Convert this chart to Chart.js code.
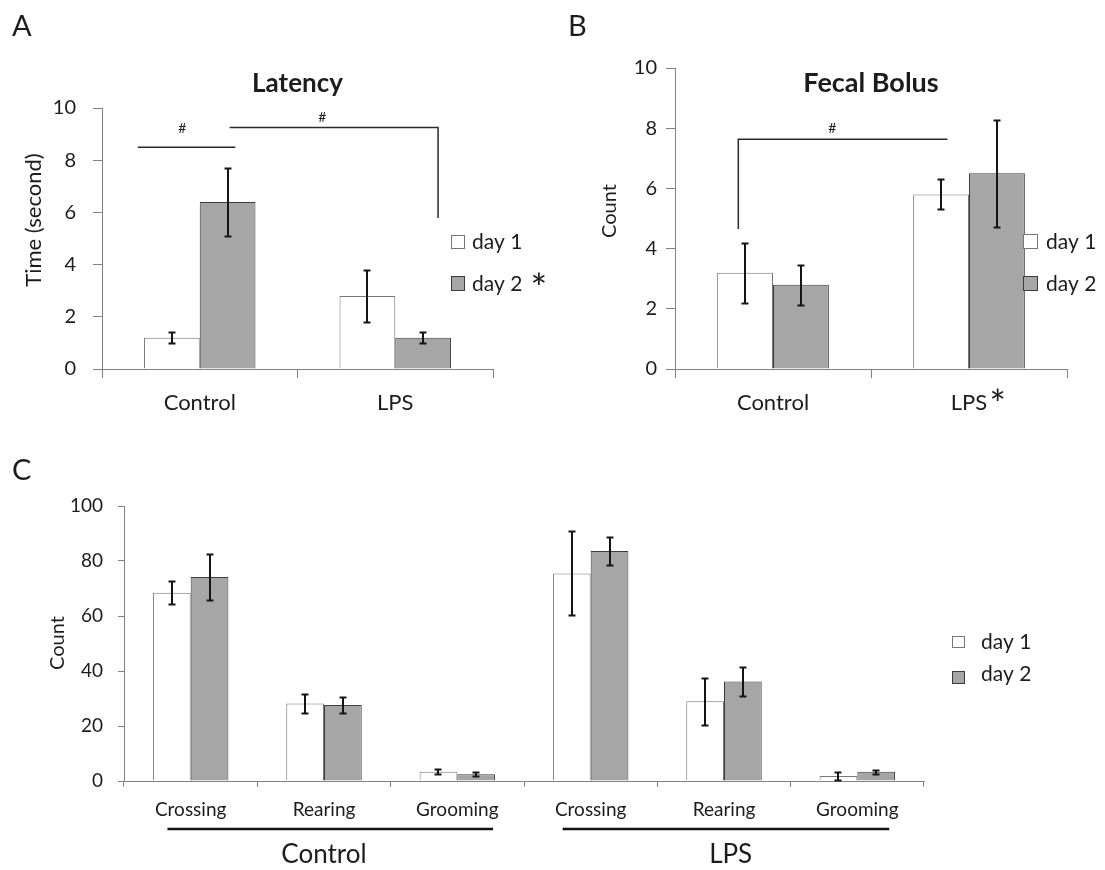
<!DOCTYPE html>
<html>
<head>
<meta charset="utf-8">
<script src="https://cdn.jsdelivr.net/npm/chart.js@4.4.1/dist/chart.umd.min.js"></script>
<style>
  html, body { margin: 0; padding: 0; background: #ffffff; }
  #page { position: relative; width: 1105px; height: 870px; overflow: hidden; }
  canvas { position: absolute; display: block; }
</style>
</head>
<body>
<div id="page">
  <canvas id="latency" width="550" height="420" style="left:0;top:0"></canvas>
  <canvas id="fecal" width="555" height="420" style="left:550px;top:0"></canvas>
  <canvas id="activity" width="1105" height="420" style="left:0;top:450px"></canvas>
</div>
<script>
// ---- data ----
const seriesNames = ['day 1', 'day 2'];

// Latency to move (seconds), mean and error
const latencyGroups = ['Control', 'LPS'];
const latencyDay1 = [1.2, 2.8];
const latencyDay1Err = [0.2, 1.0];
const latencyDay2 = [6.4, 1.2];
const latencyDay2Err = [1.3, 0.2];

// Fecal bolus count
const fecalGroups = ['Control', 'LPS'];
const fecalDay1 = [3.2, 5.8];
const fecalDay1Err = [1.0, 0.5];
const fecalDay2 = [2.8, 6.5];
const fecalDay2Err = [0.67, 1.77];

// Open-field behaviour counts (Control: first three, LPS: last three)
const behaviours = ['Crossing', 'Rearing', 'Grooming', 'Crossing', 'Rearing', 'Grooming'];
const treatmentGroups = ['Control', 'LPS'];
const activityDay1 = [68.5, 28.2, 3.4, 75.5, 29.0, 1.8];
const activityDay1Err = [4.3, 3.4, 1.0, 15.3, 8.6, 1.4];
const activityDay2 = [74.2, 27.6, 2.5, 83.6, 36.2, 3.4];
const activityDay2Err = [8.5, 2.8, 0.8, 5.2, 5.3, 0.7];

// ---- styling ----
const FONT = 'Lato, "Open Sans", "DejaVu Sans", sans-serif';
const INK = '#1c1c1c';
const AXIS = '#828282';
const DAY1_FILL = '#ffffff', DAY1_EDGE = '#777777';
const DAY2_FILL = '#a6a6a6', DAY2_EDGE = '#3c3c3c';

function font(size, weight) {
  return (weight || 'normal') + ' ' + size + 'px ' + FONT;
}

// glyph centred on (cx, cy) using its real ink box, scaled to height h
function drawGlyph(ctx, ch, cx, cy, h) {
  ctx.save();
  ctx.font = font(100);
  const m = ctx.measureText(ch);
  const ink = m.actualBoundingBoxAscent + m.actualBoundingBoxDescent;
  const size = 100 * h / ink;
  ctx.font = font(size);
  const m2 = ctx.measureText(ch);
  const w = m2.actualBoundingBoxLeft + m2.actualBoundingBoxRight;
  ctx.fillStyle = INK;
  ctx.textBaseline = 'alphabetic';
  ctx.textAlign = 'left';
  const baseY = cy + (m2.actualBoundingBoxAscent - m2.actualBoundingBoxDescent) / 2;
  ctx.fillText(ch, cx - w / 2 + m2.actualBoundingBoxLeft, baseY);
  ctx.restore();
}

// error bars, significance brackets, titles, legend, group bars
const decorPlugin = {
  id: 'decor',
  afterDatasetsDraw(chart, args, o) {
    const ctx = chart.ctx, ys = chart.scales.y;
    ctx.save();
    ctx.strokeStyle = '#151515';
    ctx.lineWidth = 2;
    chart.data.datasets.forEach((ds, di) => {
      chart.getDatasetMeta(di).data.forEach((bar, i) => {
        const v = ds.data[i], e = ds.errors[i];
        const t = Math.round(ys.getPixelForValue(v + e)) + 0.5;
        const b = Math.round(ys.getPixelForValue(v - e)) + 0.5;
        const x = Math.round(bar.x);
        ctx.beginPath();
        ctx.moveTo(x, t); ctx.lineTo(x, b);
        ctx.moveTo(x - o.cap, t); ctx.lineTo(x + o.cap, t);
        ctx.moveTo(x - o.cap, b); ctx.lineTo(x + o.cap, b);
        ctx.stroke();
      });
    });
    ctx.restore();
  },
  afterDraw(chart, args, o) {
    const ctx = chart.ctx, xs = chart.scales.x, ys = chart.scales.y, area = chart.chartArea;
    ctx.save();
    ctx.fillStyle = INK;

    if (o.letter) {
      ctx.font = font(o.letter.size);
      ctx.textAlign = 'left';
      ctx.textBaseline = 'alphabetic';
      ctx.fillText(o.letter.text, o.letter.x, o.letter.y);
    }
    if (o.title) {
      ctx.font = font(o.title.size, 'bold');
      ctx.textAlign = 'center';
      ctx.textBaseline = 'alphabetic';
      ctx.fillText(o.title.text, (area.left + area.right) / 2, o.title.y);
    }
    if (o.yTitle) {
      ctx.save();
      ctx.font = font(o.yTitle.size);
      ctx.textAlign = 'center';
      ctx.textBaseline = 'middle';
      ctx.translate(o.yTitle.x, o.yTitle.y);
      ctx.rotate(-Math.PI / 2);
      ctx.fillText(o.yTitle.text, 0, 0);
      ctx.restore();
    }
    (o.brackets || []).forEach(br => {
      ctx.save();
      ctx.strokeStyle = '#2a2a2a';
      ctx.lineWidth = 1.5;
      ctx.beginPath();
      br.path.forEach((p, k) => {
        const px = xs.getPixelForValue(p[0]), py = ys.getPixelForValue(p[1]);
        if (k === 0) ctx.moveTo(px, py); else ctx.lineTo(px, py);
      });
      ctx.stroke();
      ctx.restore();
      ctx.font = font(o.markSize);
      ctx.textAlign = 'center';
      ctx.textBaseline = 'middle';
      ctx.fillText('#', xs.getPixelForValue(br.mark[0]), ys.getPixelForValue(br.mark[1]));
    });
    if (o.groups) {
      const g = o.groups;
      g.items.forEach((it, k) => {
        const x0 = xs.getPixelForValue(it.from), x1 = xs.getPixelForValue(it.to);
        ctx.save();
        ctx.strokeStyle = '#111111';
        ctx.lineWidth = 2.6;
        ctx.beginPath();
        ctx.moveTo(x0, g.lineY); ctx.lineTo(x1, g.lineY);
        ctx.stroke();
        ctx.restore();
        ctx.font = font(g.size);
        ctx.textAlign = 'center';
        ctx.textBaseline = 'alphabetic';
        ctx.fillText(treatmentGroups[k], xs.getPixelForValue(it.at), g.labelY);
      });
    }
    if (o.legend) {
      const L = o.legend;
      chart.data.datasets.forEach((ds, di) => {
        const r = L.rows[di];
        ctx.save();
        ctx.fillStyle = ds.backgroundColor;
        ctx.fillRect(L.x, r.y, L.w, r.h);
        ctx.strokeStyle = ds.borderColor;
        ctx.lineWidth = 1;
        ctx.strokeRect(Math.round(L.x) + 0.5, Math.round(r.y) + 0.5, L.w - 1, r.h - 1);
        ctx.restore();
        ctx.font = font(L.size);
        ctx.textAlign = 'left';
        ctx.textBaseline = 'alphabetic';
        ctx.fillText(ds.label, L.text, r.base);
      });
    }
    (o.stars || []).forEach(s => {
      const cx = s.tick !== undefined ? xs.getPixelForValue(s.tick) + s.dx : s.x;
      drawGlyph(ctx, '*', cx, s.y, s.h);
    });
    ctx.restore();
  }
};

function datasets(d1, e1, d2, e2, pct) {
  return [
    { label: seriesNames[0], data: d1, errors: e1, backgroundColor: DAY1_FILL, borderColor: DAY1_EDGE,
      borderWidth: 1, categoryPercentage: pct, barPercentage: 1 },
    { label: seriesNames[1], data: d2, errors: e2, backgroundColor: DAY2_FILL, borderColor: DAY2_EDGE,
      borderWidth: 1, categoryPercentage: pct, barPercentage: 1 }
  ];
}

function scales(s) {
  return {
    x: {
      offset: true,
      grid: { display: true, drawOnChartArea: false, offset: true, tickLength: s.xTick, color: AXIS, lineWidth: 1 },
      border: { display: true, color: AXIS, width: 1 },
      ticks: { color: INK, font: { family: FONT, size: s.xFont }, padding: s.xPad, maxRotation: 0, autoSkip: false },
      afterFit: sc => { sc.height = s.xHeight; }
    },
    y: {
      min: 0, max: s.yMax,
      grid: { display: true, drawOnChartArea: false, tickLength: s.yTick, color: AXIS, lineWidth: 1 },
      border: { display: true, color: AXIS, width: 1 },
      ticks: { stepSize: s.yStep, color: INK, font: { family: FONT, size: s.yFont }, padding: s.yPad },
      afterFit: sc => { sc.width = s.yWidth; }
    }
  };
}

function baseOptions(pad, sc, decor) {
  return {
    responsive: false,
    animation: false,
    devicePixelRatio: 1,
    layout: { padding: { left: 0, top: pad.top, right: pad.right, bottom: 0 } },
    scales: scales(sc),
    plugins: { legend: { display: false }, tooltip: { enabled: false }, decor: decor }
  };
}

function build() {
  new Chart(document.getElementById('latency'), {
    type: 'bar',
    data: { labels: latencyGroups, datasets: datasets(latencyDay1, latencyDay1Err, latencyDay2, latencyDay2Err, 0.57) },
    options: baseOptions(
      { top: 108, right: 57 },
      { xTick: 9, xFont: 22, xPad: 12, xHeight: 51, yMax: 10, yStep: 2, yTick: 9, yFont: 20, yPad: 17, yWidth: 102 },
      {
        cap: 3.5, markSize: 14,
        letter: { text: 'A', x: 12, y: 36, size: 29 },
        title: { text: 'Latency', y: 92, size: 26 },
        yTitle: { text: 'Time (second)', x: 34, y: 220, size: 22 },
        brackets: [
          { path: [[-0.317, 8.5], [0.182, 8.5]], mark: [-0.089, 9.23] },
          { path: [[0.153, 9.25], [1.219, 9.25], [1.219, 5.79]], mark: [0.627, 9.64] }
        ],
        legend: { x: 451, w: 14, text: 472, size: 21, rows: [{ y: 235, h: 14, base: 249 }, { y: 276, h: 15, base: 291 }] },
        stars: [{ x: 539, y: 278.5, h: 13 }]
      })
  });

  new Chart(document.getElementById('fecal'), {
    type: 'bar',
    data: { labels: fecalGroups, datasets: datasets(fecalDay1, fecalDay1Err, fecalDay2, fecalDay2Err, 0.57) },
    options: baseOptions(
      { top: 68, right: 38 },
      { xTick: 9, xFont: 22, xPad: 12, xHeight: 51, yMax: 10, yStep: 2, yTick: 9, yFont: 20, yPad: 9, yWidth: 125 },
      {
        cap: 3.5, markSize: 14,
        letter: { text: 'B', x: 18, y: 36, size: 29 },
        title: { text: 'Fecal Bolus', y: 92, size: 27 },
        yTitle: { text: 'Count', x: 60, y: 211, size: 20 },
        brackets: [
          { path: [[-0.177, 4.65], [-0.177, 7.63], [0.890, 7.63]], mark: [0.303, 7.99] }
        ],
        legend: { x: 473, w: 15, text: 496, size: 21, rows: [{ y: 234, h: 15, base: 249 }, { y: 276, h: 15, base: 291 }] },
        stars: [{ tick: 1, dx: 28.5, y: 394, h: 12.7 }]
      })
  });

  new Chart(document.getElementById('activity'), {
    type: 'bar',
    data: { labels: behaviours, datasets: datasets(activityDay1, activityDay1Err, activityDay2, activityDay2Err, 0.566) },
    options: baseOptions(
      { top: 56, right: 181 },
      { xTick: 6, xFont: 19, xPad: 11, xHeight: 89, yMax: 100, yStep: 20, yTick: 6, yFont: 19, yPad: 15, yWidth: 124 },
      {
        cap: 3.5,
        letter: { text: 'C', x: 12, y: 30, size: 29 },
        yTitle: { text: 'Count', x: 58, y: 193, size: 20 },
        groups: {
          lineY: 379, labelY: 413, size: 26,
          items: [{ from: -0.174, to: 2.268, at: 1.0 }, { from: 2.79, to: 5.239, at: 4.05 }]
        },
        legend: { x: 952, w: 13, text: 981, size: 21, rows: [{ y: 186, h: 12, base: 199 }, { y: 221, h: 13, base: 231 }] }
      })
  });
}

Chart.register(decorPlugin);
const ready = document.fonts && document.fonts.load
  ? Promise.all([document.fonts.load(font(20)), document.fonts.load(font(20, 'bold'))]).catch(() => {})
  : Promise.resolve();
ready.then(build);
</script>
</body>
</html>
